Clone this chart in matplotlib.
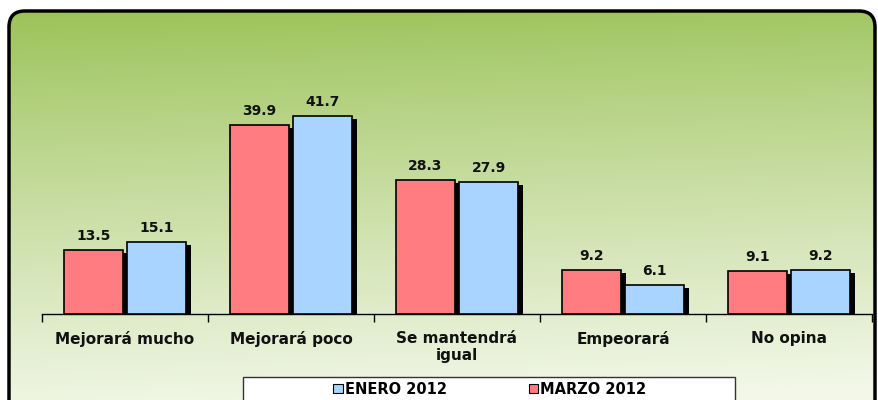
import numpy as np
import matplotlib
matplotlib.use("Agg")
import matplotlib.pyplot as plt
from matplotlib.patches import FancyBboxPatch, Patch, Rectangle
import matplotlib.patheffects as pe

categories = ["Mejorará mucho", "Mejorará poco", "Se mantendrá\nigual", "Empeorará", "No opina"]
marzo_2012 = [13.5, 39.9, 28.3, 9.2, 9.1]
enero_2012 = [15.1, 41.7, 27.9, 6.1, 9.2]
series_names = ["ENERO 2012", "MARZO 2012"]

plt.rcParams['font.family'] = ['DejaVu Sans']

W, H = 879, 400
fig = plt.figure(figsize=(W / 100, H / 100), dpi=100)
fig.patch.set_facecolor('white')

# background rounded panel with gradient
bg = fig.add_axes([0, 0, 1, 1])
bg.set_xlim(0, W)
bg.set_ylim(H, 0)
bg.axis('off')
top = np.array([0x9b, 0xc2, 0x57]) / 255
bot = np.array([0xf2, 0xf7, 0xe8]) / 255
ny, nx = 200, 100
t = np.linspace(0, 1, ny)[:, None]
s = np.linspace(0, 1, nx)[None, :]
f = np.clip(t ** 0.9 + 0.08 * s, 0, 1)
grad = top[None, None, :] * (1 - f[..., None]) + bot[None, None, :] * f[..., None]
im = bg.imshow(grad, extent=(8, 877, 420, 10), aspect='auto', zorder=0)
box = FancyBboxPatch((9, 11), 866, 420, boxstyle="round,pad=0,rounding_size=16",
                     facecolor='none', edgecolor='black', linewidth=2.5, zorder=2)
bg.add_patch(box)
im.set_clip_path(box)
# legend frame (cut off at bottom edge like the reference)
bg.add_patch(Rectangle((243, 377), 492, 40, facecolor='white', edgecolor='#333333',
                       linewidth=1.0, zorder=3))

# main axes
ax_left, ax_right = 42 / W, 872 / W
base_y = 314
ylim_top = 50
px_per_unit = 4.74
ax_h_px = ylim_top * px_per_unit
ax = fig.add_axes([ax_left, (H - base_y) / H, ax_right - ax_left, ax_h_px / H])
ax.patch.set_alpha(0)
ax.set_xlim(-0.5, len(categories) - 0.5)
ax.set_ylim(0, ylim_top)

x = np.arange(len(categories))
w = 0.36
off = 0.19
red = '#ff7c80'
blue = '#a9d4ff'
shadow = [pe.SimplePatchShadow(offset=(3, -2), shadow_rgbFace='black', alpha=1.0), pe.Normal()]
b1 = ax.bar(x - off, marzo_2012, w, color=red, edgecolor='black', linewidth=1.2, zorder=3)
b2 = ax.bar(x + off, enero_2012, w, color=blue, edgecolor='black', linewidth=1.2, zorder=3)
for b in list(b1) + list(b2):
    b.set_path_effects(shadow)

for xs, vals in ((x - off, marzo_2012), (x + off, enero_2012)):
    for xi, v in zip(xs, vals):
        ax.annotate(f"{v:.1f}", (xi, v), xytext=(0, 5), textcoords='offset points',
                    ha='center', va='bottom', fontsize=10, fontweight='bold', color='#111111')

for sp in ['top', 'right', 'left']:
    ax.spines[sp].set_visible(False)
ax.spines['bottom'].set_linewidth(1.0)
ax.set_yticks([])
ax.set_xticks(x)
ax.set_xticklabels(categories, fontsize=11, fontweight='bold', linespacing=1.2, color='#111111')
ax.tick_params(axis='x', which='major', length=0, pad=12)
ax.set_xticks(np.arange(-0.5, len(categories)), minor=True)
ax.tick_params(axis='x', which='minor', length=6, width=1.0)

handles = [Patch(facecolor=blue, edgecolor='black', linewidth=0.8),
           Patch(facecolor=red, edgecolor='black', linewidth=0.8)]
leg = fig.legend(handles, series_names, loc='center',
                 bbox_to_anchor=(490 / W, 1 - 389 / H), ncol=2,
                 frameon=False, handlelength=0.65, handleheight=0.65,
                 handletextpad=0.15, prop={'weight': 'bold', 'size': 10.5},
                 borderaxespad=0, columnspacing=5.6)
leg.set_zorder(5)

fig.savefig("out.png", dpi=100)
